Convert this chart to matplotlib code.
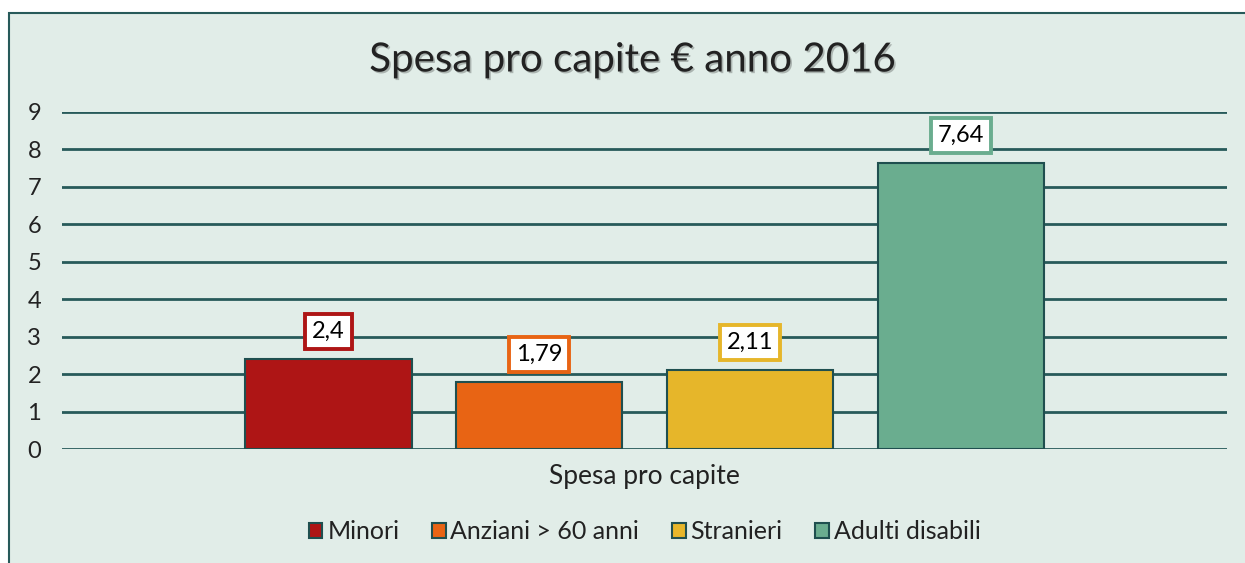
import matplotlib.pyplot as plt
import matplotlib.patheffects as pe
from matplotlib.patches import Rectangle

# --- dati ---
categorie = ["Minori", "Anziani > 60 anni", "Stranieri", "Adulti disabili"]
valori = [2.4, 1.79, 2.11, 7.64]
etichette = ["2,4", "1,79", "2,11", "7,64"]
colori = ["#AE1515", "#E86414", "#E6B62A", "#6AAD8F"]
gruppo = "Spesa pro capite"
titolo = "Spesa pro capite € anno 2016"

sfondo = "#E1EDE8"
verde_scuro = "#275A5A"

plt.rcParams['font.family'] = ['Lato', 'DejaVu Sans']

fig = plt.figure(figsize=(12.45, 5.63), dpi=100)
fig.patch.set_facecolor("white")

# riquadro del grafico (sotto gli assi)
fig.patches.append(Rectangle((9 / 1245, -0.01), 1.0, 1 - 13 / 563 + 0.01,
                             transform=fig.transFigure, facecolor=sfondo,
                             edgecolor=verde_scuro, linewidth=1.5, zorder=-5))

ax = fig.add_axes([62 / 1245, 1 - 449 / 563, (1227 - 62) / 1245, (449 - 112) / 563])
ax.set_facecolor("none")

larghezza = 0.143
passo = 0.181
for i, (nome, v, lab, c) in enumerate(zip(categorie, valori, etichette, colori)):
    x = (i - 1.5) * passo
    ax.bar(x, v, width=larghezza, color=c, edgecolor="#1F4F4F", linewidth=1.5,
           label=nome, zorder=3)
    ax.annotate(lab, (x, v), xytext=(0, 20), textcoords="offset points",
                ha="center", va="center", fontsize=17, color="black", zorder=4,
                bbox=dict(boxstyle="square,pad=0.3", facecolor="white",
                          edgecolor=c, linewidth=2.8))

ax.set_xlim(-0.5, 0.5)
ax.set_ylim(0, 9)
ax.set_yticks(range(0, 10))
ax.tick_params(axis="y", length=0, labelsize=17, labelcolor="#222222", pad=15)
ax.set_xticks([])
ax.yaxis.grid(True, color=verde_scuro, linewidth=2, zorder=1)
ax.set_axisbelow(True)
for s in ax.spines.values():
    s.set_visible(False)

ax.set_xlabel(gruppo, fontsize=19, labelpad=11, color="#222222")

fig.text(0.508, 1 - 60 / 563, titolo, ha="center", va="center", fontsize=29,
         color="#222222",
         path_effects=[pe.SimplePatchShadow(offset=(1.2, -1.2), alpha=0.25),
                       pe.Normal()])

leg = ax.legend(loc="center", bbox_to_anchor=(0.5, -0.245), ncol=4, frameon=False,
                fontsize=18, handlelength=0.55, handleheight=0.55, handletextpad=0.2,
                columnspacing=1.3)
for t in leg.get_texts():
    t.set_color("#222222")

fig.savefig("out.png", dpi=100)
